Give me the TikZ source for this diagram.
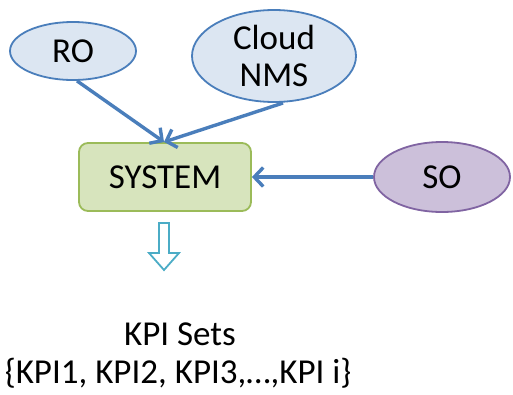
\documentclass[tikz,border=0pt]{standalone}
\usepackage{fontspec}
\setmainfont{Carlito}
\usetikzlibrary{shapes.geometric,arrows.meta}
\definecolor{blueline}{RGB}{74,126,187}
\definecolor{bluefill}{RGB}{220,230,242}
\definecolor{greenfill}{RGB}{215,228,189}
\definecolor{greenline}{RGB}{155,187,89}
\definecolor{purplefill}{RGB}{204,192,218}
\definecolor{purpleline}{RGB}{128,100,162}
\definecolor{cyanline}{RGB}{75,172,198}
\tikzset{
  txt/.style={font=\fontsize{35}{40}\selectfont, text=black},
  oval/.style={ellipse, draw=blueline, fill=bluefill, line width=1.8pt, inner sep=0pt, txt},
  sysbox/.style={rectangle, rounded corners=9pt, draw=greenline, fill=greenfill, line width=1.8pt, txt},
  conn/.style={draw=blueline, line width=3.4pt, -{Straight Barb[length=9pt,width=19pt,line width=3.4pt]}},
}
\begin{document}
\begin{tikzpicture}[x=1pt,y=-1pt]
\useasboundingbox (0,0) rectangle (513,394);
\node[oval, minimum width=126pt, minimum height=58pt] (ro) at (73,51) {RO};
\node[oval, minimum width=164pt, minimum height=92pt, align=center, font=\fontsize{35}{37}\selectfont] (nms) at (274,56) {Cloud\\NMS};
\node[sysbox, minimum width=172pt, minimum height=68pt] (sys) at (165,177) {SYSTEM};
\node[ellipse, draw=purpleline, fill=purplefill, line width=1.8pt, inner sep=0pt, txt, minimum width=136pt, minimum height=70pt] (so) at (442,177) {SO};
\coordinate (tip) at (164,142);
\draw[conn] (ro.south) ++(4,0) coordinate (rostart) -- (tip);
\draw[conn] (283,103) coordinate (nmsstart) -- (tip);
\draw[conn] (so.west) -- (sys.east);
\node[txt, anchor=base] (kpi) at (180,345) {KPI Sets};
\node[txt, anchor=base] (kpilist) at (178,383) {\{KPI1, KPI2, KPI3,…,KPI i\}};
\draw[cyanline, line width=1.8pt, fill=white] (159,223) -- (169,223) -- (169,253) -- (179,253) -- (164,270) -- (149,253) -- (159,253) -- cycle;
\end{tikzpicture}
\end{document}
